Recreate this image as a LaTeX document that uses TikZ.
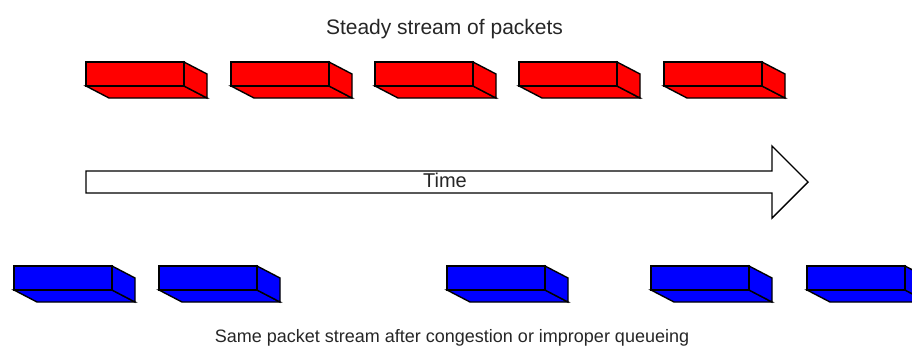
\documentclass[tikz,border=0pt]{standalone}
\usepackage{fontspec}
\setmainfont{Liberation Sans}
\tikzset{
  pics/packet/.style={code={
    \filldraw[fill=#1,draw=black,line width=1.4pt,line join=miter]
      (0,24) -- (98,24) -- (121,36) -- (23,36) -- cycle;
    \filldraw[fill=#1,draw=black,line width=1.4pt,line join=miter]
      (98,0) -- (121,12) -- (121,36) -- (98,24) -- cycle;
    \filldraw[fill=#1,draw=black,line width=1.4pt,line join=miter]
      (0,0) rectangle (98,24);
  }},
  lbl/.style={inner sep=0pt,anchor=base,text=black!85},
  timearrow/.style={draw=black,line width=1.4pt,fill=white,line join=miter}
}
\definecolor{pktred}{RGB}{255,0,0}
\definecolor{pktblue}{RGB}{0,0,255}
\begin{document}
\begin{tikzpicture}[x=1pt,y=-1pt]
\useasboundingbox (0,0) rectangle (912,346);
\begin{scope}
\clip (0,0) rectangle (912,346);
% title
\node[lbl,font=\fontsize{21}{24}\selectfont] (title) at (444.5,34) {Steady stream of packets};
% red packets
\foreach \x [count=\i] in {86,231,375,519,664}
  \pic (red\i) at (\x,62) {packet=pktred};
% time arrow
\draw[timearrow] (86,171) -- (772,171) -- (772,146) -- (808,182) -- (772,218) -- (772,193) -- (86,193) -- cycle;
\node[lbl,font=\fontsize{20}{24}\selectfont] (time) at (445,187) {Time};
% blue packets
\foreach \x [count=\i] in {14,159,447,651,807}
  \pic (blue\i) at (\x,266) {packet=pktblue};
% bottom label
\node[lbl,font=\fontsize{18}{22}\selectfont] (bottom) at (452,342) {Same packet stream after congestion or improper queueing};
\end{scope}
\end{tikzpicture}
\end{document}
